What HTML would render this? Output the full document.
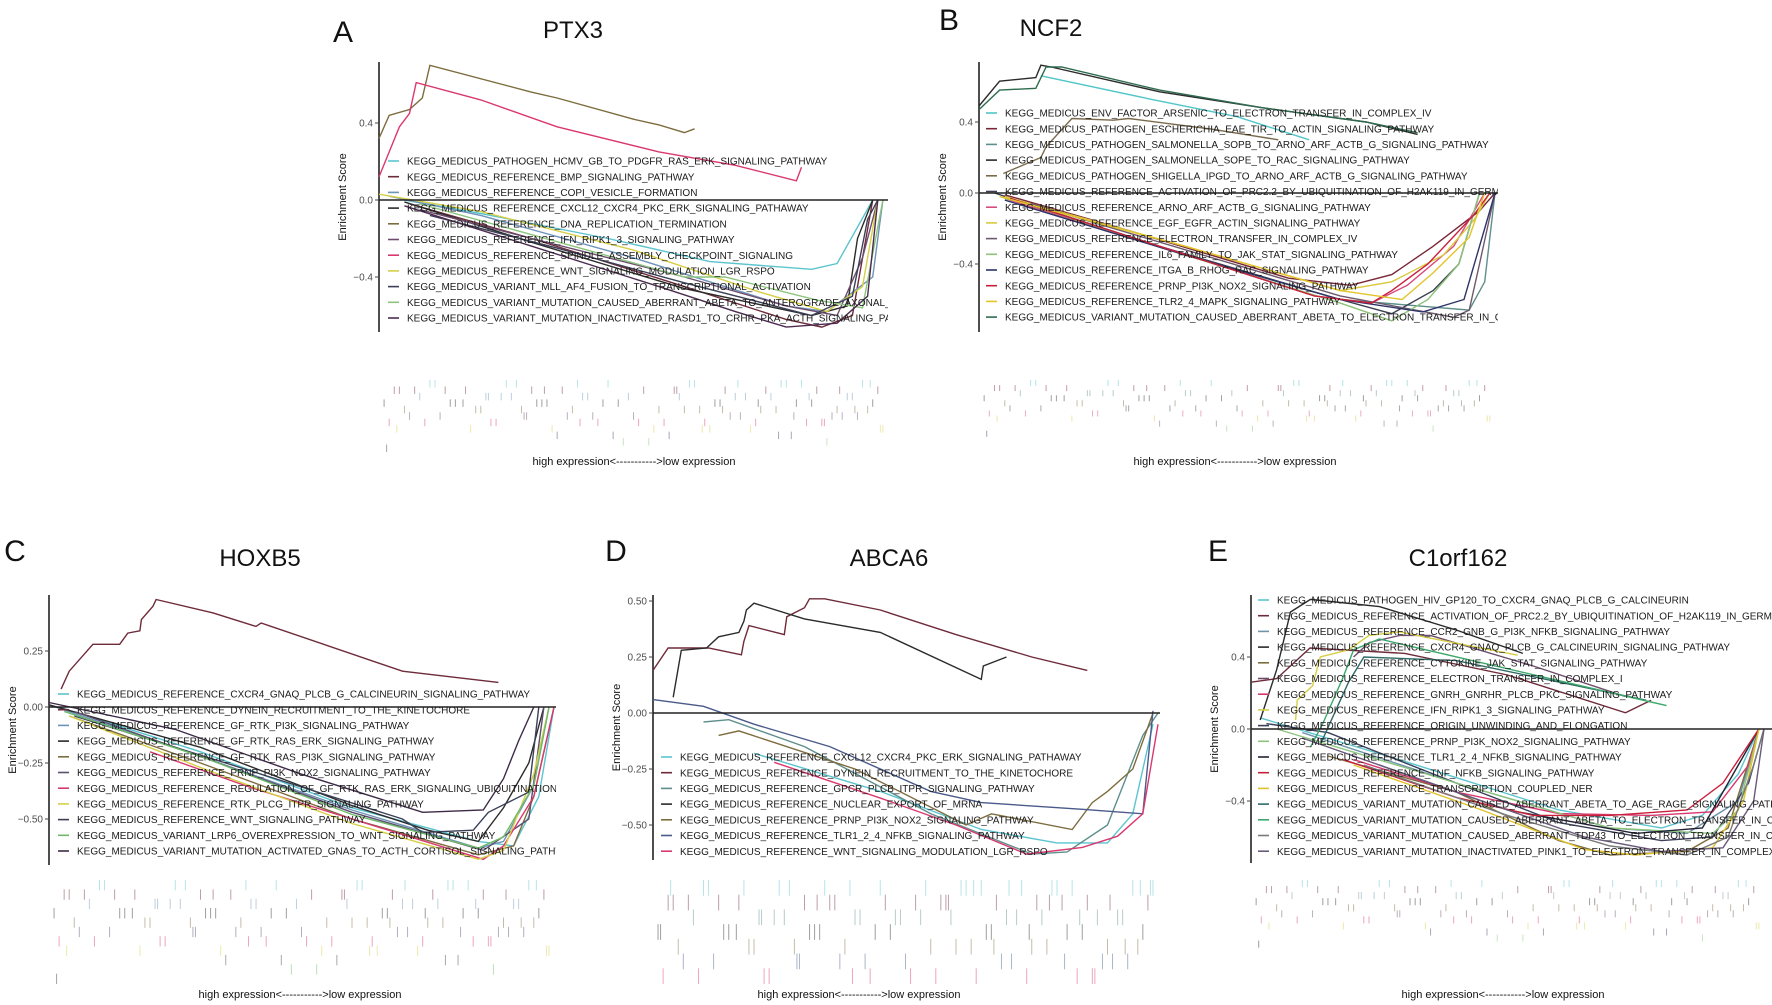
<!DOCTYPE html>
<html><head><meta charset="utf-8">
<style>
html,body{margin:0;padding:0;background:#fff;}
svg{display:block;font-family:"Liberation Sans",Arial,sans-serif;}
</style></head>
<body>
<svg id="fig" width="1772" height="1005" viewBox="0 0 1772 1005" xmlns="http://www.w3.org/2000/svg"></svg>
<script>
// ---------- Panel A : PTX3 ----------
const A_names=["KEGG_MEDICUS_PATHOGEN_HCMV_GB_TO_PDGFR_RAS_ERK_SIGNALING_PATHWAY","KEGG_MEDICUS_REFERENCE_BMP_SIGNALING_PATHWAY","KEGG_MEDICUS_REFERENCE_COPI_VESICLE_FORMATION","KEGG_MEDICUS_REFERENCE_CXCL12_CXCR4_PKC_ERK_SIGNALING_PATHAWAY","KEGG_MEDICUS_REFERENCE_DNA_REPLICATION_TERMINATION","KEGG_MEDICUS_REFERENCE_IFN_RIPK1_3_SIGNALING_PATHWAY","KEGG_MEDICUS_REFERENCE_SPINDLE_ASSEMBLY_CHECKPOINT_SIGNALING","KEGG_MEDICUS_REFERENCE_WNT_SIGNALING_MODULATION_LGR_RSPO","KEGG_MEDICUS_VARIANT_MLL_AF4_FUSION_TO_TRANSCRIPTIONAL_ACTIVATION","KEGG_MEDICUS_VARIANT_MUTATION_CAUSED_ABERRANT_ABETA_TO_ANTEROGRADE_AXONAL_TRANSPORT","KEGG_MEDICUS_VARIANT_MUTATION_INACTIVATED_RASD1_TO_CRHR_PKA_ACTH_SIGNALING_PATHWAY"];
const A_colors=["#5bc4cf","#6e2b3a","#6f93b8","#2b2b2b","#7d6c3e","#6d4d6e","#d9386f","#d6cf45","#3b4058","#8cc47e","#4b2b4f"];
const A_series=[
[[0.05,0],[0.2,-0.07],[0.45,-0.2],[0.65,-0.32],[0.85,-0.36],[0.9,-0.33],[0.97,0]],
[[0.06,-0.02],[0.3,-0.2],[0.6,-0.45],[0.8,-0.62],[0.87,-0.66],[0.93,-0.6],[0.97,0]],
[[0.02,0.02],[0.2,-0.08],[0.5,-0.3],[0.8,-0.55],[0.88,-0.58],[0.97,-0.4],[0.99,0]],
[[0.05,-0.01],[0.3,-0.22],[0.6,-0.46],[0.85,-0.6],[0.92,-0.55],[0.94,-0.2],[0.97,0]],
[[0,0.32],[0.02,0.44],[0.06,0.47],[0.085,0.53],[0.1,0.7],[0.3,0.56],[0.35,0.53],[0.5,0.42],[0.55,0.39],[0.6,0.35],[0.62,0.37]],
[[0.08,-0.05],[0.3,-0.2],[0.6,-0.4],[0.8,-0.55],[0.9,-0.6],[0.95,-0.3],[0.98,0]],
[[0,0.12],[0.02,0.25],[0.04,0.38],[0.06,0.45],[0.073,0.61],[0.2,0.52],[0.35,0.38],[0.55,0.25],[0.7,0.18],[0.82,0.1],[0.83,0.17]],
[[0,0.03],[0.2,-0.06],[0.5,-0.26],[0.75,-0.48],[0.88,-0.58],[0.95,-0.45],[0.98,0]],
[[0.1,-0.08],[0.35,-0.25],[0.6,-0.43],[0.85,-0.6],[0.93,-0.5],[0.96,-0.1],[0.98,0]],
[[0.08,-0.02],[0.3,-0.18],[0.6,-0.4],[0.68,-0.4],[0.86,-0.52],[0.95,-0.56],[0.99,0]],
[[0.05,-0.03],[0.3,-0.24],[0.55,-0.45],[0.7,-0.58],[0.8,-0.66],[0.9,-0.64],[0.96,-0.5],[0.98,0]]];
const A_ticks=[0.4,0,-0.4];
const A_tickLabels=["0.4","0.0","\u22120.4"];

// ---------- Panel B : NCF2 ----------
const B_names=["KEGG_MEDICUS_ENV_FACTOR_ARSENIC_TO_ELECTRON_TRANSFER_IN_COMPLEX_IV","KEGG_MEDICUS_PATHOGEN_ESCHERICHIA_EAE_TIR_TO_ACTIN_SIGNALING_PATHWAY","KEGG_MEDICUS_PATHOGEN_SALMONELLA_SOPB_TO_ARNO_ARF_ACTB_G_SIGNALING_PATHWAY","KEGG_MEDICUS_PATHOGEN_SALMONELLA_SOPE_TO_RAC_SIGNALING_PATHWAY","KEGG_MEDICUS_PATHOGEN_SHIGELLA_IPGD_TO_ARNO_ARF_ACTB_G_SIGNALING_PATHWAY","KEGG_MEDICUS_REFERENCE_ACTIVATION_OF_PRC2.2_BY_UBIQUITINATION_OF_H2AK119_IN_GERM","KEGG_MEDICUS_REFERENCE_ARNO_ARF_ACTB_G_SIGNALING_PATHWAY","KEGG_MEDICUS_REFERENCE_EGF_EGFR_ACTIN_SIGNALING_PATHWAY","KEGG_MEDICUS_REFERENCE_ELECTRON_TRANSFER_IN_COMPLEX_IV","KEGG_MEDICUS_REFERENCE_IL6_FAMILY_TO_JAK_STAT_SIGNALING_PATHWAY","KEGG_MEDICUS_REFERENCE_ITGA_B_RHOG_RAC_SIGNALING_PATHWAY","KEGG_MEDICUS_REFERENCE_PRNP_PI3K_NOX2_SIGNALING_PATHWAY","KEGG_MEDICUS_REFERENCE_TLR2_4_MAPK_SIGNALING_PATHWAY","KEGG_MEDICUS_VARIANT_MUTATION_CAUSED_ABERRANT_ABETA_TO_ELECTRON_TRANSFER_IN_COMPLEX"];
const B_colors=["#4fc6c8","#7a2638","#5f8f8c","#2b2b2b","#7a6a4c","#3a3f50","#d94b7c","#d9c93c","#6c5a6c","#8dc27a","#2f3468","#c8203a","#e3c42a","#2e6b4f"];
const B_series=[
[[0.12,0.66],[0.33,0.53],[0.5,0.43],[0.64,0.3]],
[[0.05,-0.01],[0.3,-0.22],[0.6,-0.48],[0.72,-0.52],[0.8,-0.46],[0.88,-0.3],[0.97,-0.1],[1,0]],
[[0.05,-0.03],[0.4,-0.35],[0.7,-0.6],[0.95,-0.66],[0.98,-0.5],[1,0]],
[[0,0.49],[0.04,0.63],[0.11,0.65],[0.12,0.72],[0.14,0.71],[0.35,0.57],[0.55,0.48],[0.75,0.4],[0.85,0.33]],
[[0.047,0.11],[0.12,0.2],[0.13,0.26],[0.18,0.42],[0.26,0.41],[0.29,0.42],[0.45,0.36],[0.58,0.3]],
[[0.03,0],[0.35,-0.3],[0.7,-0.6],[0.8,-0.68],[0.88,-0.55],[0.93,-0.4],[0.97,0]],
[[0.06,-0.04],[0.35,-0.3],[0.65,-0.58],[0.76,-0.62],[0.83,-0.52],[0.92,-0.3],[0.98,0]],
[[0.05,-0.02],[0.4,-0.3],[0.7,-0.55],[0.8,-0.5],[0.9,-0.35],[0.96,-0.15],[0.99,0]],
[[0.1,-0.06],[0.4,-0.32],[0.7,-0.58],[0.92,-0.7],[0.95,-0.66],[0.97,-0.4],[1,0]],
[[0.08,-0.05],[0.4,-0.35],[0.7,-0.62],[0.8,-0.72],[0.87,-0.6],[0.93,-0.4],[0.97,0]],
[[0.05,-0.04],[0.4,-0.35],[0.7,-0.6],[0.86,-0.67],[0.94,-0.6],[0.98,-0.2],[1,0]],
[[0.06,-0.03],[0.35,-0.3],[0.65,-0.58],[0.76,-0.62],[0.8,-0.55],[0.87,-0.4],[0.96,-0.12],[0.99,0]],
[[0.04,-0.02],[0.4,-0.3],[0.7,-0.55],[0.82,-0.6],[0.88,-0.45],[0.95,-0.25],[0.98,0]],
[[0,0.47],[0.04,0.58],[0.11,0.59],[0.13,0.71],[0.16,0.71],[0.35,0.58],[0.55,0.48],[0.75,0.4],[0.85,0.34]]];
const B_ticks=[0.4,0,-0.4];
const B_tickLabels=["0.4","0.0","\u22120.4"];

// ---------- Panel C : HOXB5 ----------
const C_names=["KEGG_MEDICUS_REFERENCE_CXCR4_GNAQ_PLCB_G_CALCINEURIN_SIGNALING_PATHWAY","KEGG_MEDICUS_REFERENCE_DYNEIN_RECRUITMENT_TO_THE_KINETOCHORE","KEGG_MEDICUS_REFERENCE_GF_RTK_PI3K_SIGNALING_PATHWAY","KEGG_MEDICUS_REFERENCE_GF_RTK_RAS_ERK_SIGNALING_PATHWAY","KEGG_MEDICUS_REFERENCE_GF_RTK_RAS_PI3K_SIGNALING_PATHWAY","KEGG_MEDICUS_REFERENCE_PRNP_PI3K_NOX2_SIGNALING_PATHWAY","KEGG_MEDICUS_REFERENCE_REGULATION_OF_GF_RTK_RAS_ERK_SIGNALING_UBIQUITINATION","KEGG_MEDICUS_REFERENCE_RTK_PLCG_ITPR_SIGNALING_PATHWAY","KEGG_MEDICUS_REFERENCE_WNT_SIGNALING_PATHWAY","KEGG_MEDICUS_VARIANT_LRP6_OVEREXPRESSION_TO_WNT_SIGNALING_PATHWAY","KEGG_MEDICUS_VARIANT_MUTATION_ACTIVATED_GNAS_TO_ACTH_CORTISOL_SIGNALING_PATHWAY"];
const C_colors=["#5bc4cf","#6e2b3a","#6f93b8","#2b2b2b","#7d6c3e","#5d4d6e","#d9386f","#d6cf45","#3b4058","#6fba6a","#3d2a48"];
const C_series=[
[[0.02,0],[0.3,-0.2],[0.6,-0.45],[0.85,-0.6],[0.92,-0.62],[0.97,-0.4],[1,0]],
[[0.024,0.08],[0.04,0.16],[0.087,0.28],[0.14,0.28],[0.156,0.33],[0.18,0.34],[0.183,0.39],[0.206,0.45],[0.212,0.48],[0.325,0.42],[0.41,0.36],[0.42,0.375],[0.44,0.36],[0.7,0.16],[0.89,0.11]],
[[0,0.01],[0.3,-0.22],[0.6,-0.46],[0.85,-0.63],[0.9,-0.6],[0.96,-0.35],[0.99,0]],
[[0,0.01],[0.3,-0.18],[0.6,-0.44],[0.75,-0.55],[0.85,-0.6],[0.9,-0.45],[0.95,-0.25],[0.98,0]],
[[0.04,-0.04],[0.3,-0.25],[0.6,-0.5],[0.85,-0.66],[0.92,-0.62],[0.96,-0.4],[1,0]],
[[0.05,-0.02],[0.3,-0.22],[0.6,-0.47],[0.86,-0.64],[0.95,-0.5],[0.98,0]],
[[0.2,-0.2],[0.4,-0.36],[0.6,-0.5],[0.86,-0.68],[0.9,-0.62],[0.96,-0.4],[1,0]],
[[0.04,-0.04],[0.3,-0.27],[0.6,-0.52],[0.85,-0.68],[0.9,-0.64],[0.96,-0.3],[0.99,0]],
[[0.05,-0.04],[0.35,-0.25],[0.7,-0.5],[0.74,-0.56],[0.84,-0.55],[0.87,-0.47],[0.95,-0.38],[0.97,0]],
[[0.03,-0.02],[0.3,-0.22],[0.6,-0.48],[0.85,-0.63],[0.9,-0.58],[0.96,-0.35],[0.99,0]],
[[0,0.02],[0.25,-0.1],[0.5,-0.3],[0.74,-0.47],[0.86,-0.46],[0.9,-0.32],[0.93,-0.15],[0.96,0]]];
const C_ticks=[0.25,0,-0.25,-0.5];
const C_tickLabels=["0.25","0.00","\u22120.25","\u22120.50"];

// ---------- Panel D : ABCA6 ----------
const D_names=["KEGG_MEDICUS_REFERENCE_CXCL12_CXCR4_PKC_ERK_SIGNALING_PATHAWAY","KEGG_MEDICUS_REFERENCE_DYNEIN_RECRUITMENT_TO_THE_KINETOCHORE","KEGG_MEDICUS_REFERENCE_GPCR_PLCB_ITPR_SIGNALING_PATHWAY","KEGG_MEDICUS_REFERENCE_NUCLEAR_EXPORT_OF_MRNA","KEGG_MEDICUS_REFERENCE_PRNP_PI3K_NOX2_SIGNALING_PATHWAY","KEGG_MEDICUS_REFERENCE_TLR1_2_4_NFKB_SIGNALING_PATHWAY","KEGG_MEDICUS_REFERENCE_WNT_SIGNALING_MODULATION_LGR_RSPO"];
const D_colors=["#5bc4cf","#6e2b3a","#5f8f8c","#2b2b2b","#7d6c3e","#4a5a8a","#d9386f"];
const D_series=[
[[0.2,-0.18],[0.45,-0.35],[0.65,-0.52],[0.8,-0.58],[0.9,-0.58],[0.95,-0.45],[0.99,-0.05]],
[[0,0.19],[0.03,0.29],[0.11,0.29],[0.175,0.26],[0.18,0.32],[0.19,0.39],[0.26,0.35],[0.265,0.43],[0.3,0.47],[0.31,0.51],[0.34,0.51],[0.45,0.46],[0.6,0.35],[0.75,0.25],[0.75,0.25],[0.86,0.19]],
[[0.1,-0.04],[0.15,-0.03],[0.3,-0.15],[0.55,-0.45],[0.75,-0.63],[0.82,-0.62],[0.9,-0.5],[0.97,-0.1],[1,0]],
[[0.04,0.07],[0.056,0.28],[0.106,0.29],[0.13,0.34],[0.17,0.36],[0.18,0.41],[0.185,0.46],[0.2,0.49],[0.3,0.42],[0.45,0.36],[0.65,0.15],[0.654,0.21],[0.7,0.25]],
[[0.13,-0.1],[0.17,-0.08],[0.4,-0.25],[0.62,-0.5],[0.67,-0.45],[0.83,-0.52],[0.87,-0.4],[0.9,-0.35],[0.95,-0.25],[0.99,0]],
[[0,0.06],[0.1,0.03],[0.2,-0.05],[0.35,-0.15],[0.55,-0.35],[0.65,-0.4],[0.85,-0.43],[0.97,-0.45],[0.99,0.01]],
[[0.24,-0.22],[0.45,-0.38],[0.6,-0.5],[0.74,-0.63],[0.85,-0.6],[0.92,-0.55],[0.97,-0.45],[1,-0.05]]];
const D_ticks=[0.5,0.25,0,-0.25,-0.5];
const D_tickLabels=["0.50","0.25","0.00","\u22120.25","\u22120.50"];

// ---------- Panel E : C1orf162 ----------
const E_names=["KEGG_MEDICUS_PATHOGEN_HIV_GP120_TO_CXCR4_GNAQ_PLCB_G_CALCINEURIN","KEGG_MEDICUS_REFERENCE_ACTIVATION_OF_PRC2.2_BY_UBIQUITINATION_OF_H2AK119_IN_GERM","KEGG_MEDICUS_REFERENCE_CCR2_GNB_G_PI3K_NFKB_SIGNALING_PATHWAY","KEGG_MEDICUS_REFERENCE_CXCR4_GNAQ_PLCB_G_CALCINEURIN_SIGNALING_PATHWAY","KEGG_MEDICUS_REFERENCE_CYTOKINE_JAK_STAT_SIGNALING_PATHWAY","KEGG_MEDICUS_REFERENCE_ELECTRON_TRANSFER_IN_COMPLEX_I","KEGG_MEDICUS_REFERENCE_GNRH_GNRHR_PLCB_PKC_SIGNALING_PATHWAY","KEGG_MEDICUS_REFERENCE_IFN_RIPK1_3_SIGNALING_PATHWAY","KEGG_MEDICUS_REFERENCE_ORIGIN_UNWINDING_AND_ELONGATION","KEGG_MEDICUS_REFERENCE_PRNP_PI3K_NOX2_SIGNALING_PATHWAY","KEGG_MEDICUS_REFERENCE_TLR1_2_4_NFKB_SIGNALING_PATHWAY","KEGG_MEDICUS_REFERENCE_TNF_NFKB_SIGNALING_PATHWAY","KEGG_MEDICUS_REFERENCE_TRANSCRIPTION_COUPLED_NER","KEGG_MEDICUS_VARIANT_MUTATION_CAUSED_ABERRANT_ABETA_TO_AGE_RAGE_SIGNALING_PATHWAY","KEGG_MEDICUS_VARIANT_MUTATION_CAUSED_ABERRANT_ABETA_TO_ELECTRON_TRANSFER_IN_COMPLEX","KEGG_MEDICUS_VARIANT_MUTATION_CAUSED_ABERRANT_TDP43_TO_ELECTRON_TRANSFER_IN_COMPLEX","KEGG_MEDICUS_VARIANT_MUTATION_INACTIVATED_PINK1_TO_ELECTRON_TRANSFER_IN_COMPLEX_I"];
const E_colors=["#5bc4cf","#6e2b3a","#6f93a8","#2b2b2b","#7d6c3e","#6d4d6e","#d9386f","#d6cf45","#3b4058","#8cc47e","#222233","#c8203a","#e0c32a","#2f6b66","#3aa86a","#7a7a7a","#6a5a7a"];
const E_series=[
[[0.02,0.06],[0.3,-0.18],[0.6,-0.45],[0.8,-0.55],[0.88,-0.48],[0.95,-0.25],[0.99,0]],
[[0,0.26],[0.05,0.28],[0.115,0.45],[0.3,0.42],[0.5,0.3],[0.73,0.09],[0.78,0.16]],
[[0.1,-0.02],[0.4,-0.3],[0.7,-0.55],[0.85,-0.58],[0.95,-0.4],[0.99,0]],
[[0.018,0.05],[0.05,0.33],[0.077,0.65],[0.116,0.72],[0.25,0.68],[0.4,0.55],[0.53,0.42]],
[[0.15,-0.15],[0.4,-0.35],[0.6,-0.62],[0.7,-0.7],[0.85,-0.68],[0.93,-0.55],[0.99,0]],
[[0.2,0.4],[0.23,0.48],[0.29,0.52],[0.35,0.52],[0.55,0.35],[0.73,0.18]],
[[0.2,-0.17],[0.4,-0.35],[0.6,-0.47],[0.78,-0.48],[0.9,-0.46],[0.97,-0.2],[0.99,0]],
[[0.087,0.05],[0.09,0.16],[0.12,0.24],[0.135,0.4],[0.19,0.44],[0.23,0.52],[0.29,0.54],[0.34,0.51],[0.52,0.41]],
[[0.03,0.03],[0.15,-0.02],[0.4,-0.3],[0.6,-0.52],[0.8,-0.62],[0.9,-0.6],[0.97,-0.3],[1,0]],
[[0.05,0],[0.4,-0.3],[0.7,-0.55],[0.9,-0.58],[0.95,-0.45],[0.99,0]],
[[0.25,-0.2],[0.5,-0.45],[0.75,-0.58],[0.88,-0.55],[0.93,-0.3],[0.97,-0.1],[0.99,0]],
[[0.18,-0.17],[0.4,-0.38],[0.55,-0.48],[0.7,-0.48],[0.85,-0.45],[0.92,-0.3],[0.99,0]],
[[0.2,-0.2],[0.45,-0.45],[0.65,-0.67],[0.75,-0.7],[0.9,-0.66],[0.96,-0.4],[0.99,0]],
[[0.136,-0.08],[0.19,0.26],[0.22,0.4],[0.4,0.38],[0.77,0.16]],
[[0.116,-0.1],[0.14,0.03],[0.18,0.29],[0.2,0.44],[0.25,0.5],[0.81,0.13]],
[[0.22,-0.2],[0.5,-0.48],[0.7,-0.65],[0.85,-0.7],[0.93,-0.6],[0.98,-0.2],[1,0]],
[[0.1,-0.05],[0.4,-0.35],[0.65,-0.6],[0.8,-0.68],[0.92,-0.66],[0.98,-0.4],[1,0]]];
const E_ticks=[0.4,0,-0.4];
const E_tickLabels=["0.4","0.0","\u22120.4"];

// gene-set hit positions (rank fraction) and the rug row each hit sits in
const rugHits=[0.01,0.03,0.05,0.08,0.1,0.12,0.15,0.17,0.19,0.22,0.24,0.27,0.29,0.31,0.34,0.36,0.38,0.41,0.43,0.45,0.47,0.5,0.52,0.55,0.57,0.59,0.61,0.64,0.66,0.68,0.71,0.73,0.75,0.77,0.8,0.82,0.84,0.86,0.88,0.9,0.92,0.94,0.95,0.97,0.98,0.99,0.02,0.26,0.46,0.63,0.79,0.91,0.07,0.33,0.54,0.7,0.87,0.96,
0.04,0.06,0.11,0.14,0.18,0.21,0.23,0.28,0.3,0.35,0.39,0.42,0.44,0.49,0.51,0.53,0.58,0.6,0.62,0.65,0.67,0.69,0.72,0.74,0.76,0.78,0.81,0.83,0.85,0.89,0.93,0.985,0.015,0.09,0.13,0.2,0.25,0.32,0.37,0.4,0.48,0.56,0.585,0.635,0.675,0.705,0.745,0.785,0.815,0.845,0.875,0.905,0.935,0.965,0.035,0.165,0.215,0.285,0.325,0.395,0.445,0.515];
const rugRows=[3,1,4,2,0,5,3,1,4,6,2,0,5,3,7,1,4,2,6,0,3,5,1,4,8,2,0,6,3,1,5,7,4,2,0,3,6,1,9,4,2,5,0,3,1,7,
6,2,8,4,0,5,1,3,7,2,6,4,
1,5,0,3,7,2,6,4,1,8,0,5,3,2,6,9,1,4,0,7,3,5,2,6,1,4,8,0,3,5,2,7,10,6,1,4,0,3,5,2,9,6,1,7,4,0,3,8,5,2,6,1,4,0,7,3,2,5,1,6];

const NS="http://www.w3.org/2000/svg";
const svg=document.getElementById('fig');
function mk(tag,attrs,parent){const e=document.createElementNS(NS,tag);for(const k in attrs)e.setAttribute(k,attrs[k]);(parent||svg).appendChild(e);return e;}

const panels=[
{id:"a",letter:"A",title:"PTX3",names:A_names,colors:A_colors,series:A_series,ticks:A_ticks,tl:A_tickLabels,
 x0:379,x1:888,zeroY:200,ppu:192.5,top:62,bottom:332,lx:407,ly:161,zr:888,rugTop:379,rugBot:450,bx:634,by:465,tx:573,ty:38,Lx:343,Ly:42},
{id:"b",letter:"B",title:"NCF2",names:B_names,colors:B_colors,series:B_series,ticks:B_ticks,tl:B_tickLabels,
 x0:979,x1:1495,zeroY:193,ppu:177.5,top:62,bottom:332,lx:1005,ly:113,zr:1498,rugTop:379,rugBot:450,bx:1235,by:465,tx:1051,ty:36,Lx:949,Ly:30},
{id:"c",letter:"C",title:"HOXB5",names:C_names,colors:C_colors,series:C_series,ticks:C_ticks,tl:C_tickLabels,
 x0:49,x1:554,zeroY:707,ppu:224,top:595,bottom:865,lx:77,ly:694,zr:556,rugTop:879,rugBot:982,bx:300,by:998,tx:260,ty:566,Lx:15,Ly:561},
{id:"d",letter:"D",title:"ABCA6",names:D_names,colors:D_colors,series:D_series,ticks:D_ticks,tl:D_tickLabels,
 x0:653,x1:1158,zeroY:713,ppu:224,top:595,bottom:860,lx:680,ly:757,zr:1160,rugTop:879,rugBot:982,bx:859,by:998,tx:889,ty:566,Lx:616,Ly:561},
{id:"e",letter:"E",title:"C1orf162",names:E_names,colors:E_colors,series:E_series,ticks:E_ticks,tl:E_tickLabels,
 x0:1251,x1:1764,zeroY:729,ppu:180,top:595,bottom:863,lx:1277,ly:600,zr:1772,rugTop:879,rugBot:982,bx:1503,by:998,tx:1458,ty:566,Lx:1218,Ly:561}];

const defs=mk('defs',{});
panels.forEach(p=>{
  const X=v=>p.x0+v*(p.x1-p.x0);
  const Y=v=>p.zeroY-v*p.ppu;
  const g=mk('g',{});
  
  
  const cp=mk('clipPath',{id:'clip-'+p.id},defs);
  mk('rect',{x:p.x0-60,y:p.top-20,width:p.zr-p.x0+60,height:p.bottom-p.top+40},cp);

  const L=mk('text',{x:p.Lx,y:p.Ly,'font-size':30,'text-anchor':'middle',fill:'#111'},g);L.textContent=p.letter;
  
  
  const T=mk('text',{x:p.tx,y:p.ty,'font-size':24,'text-anchor':'middle',fill:'#111'},g);T.textContent=p.title;
  
  

  const ax=mk('line',{x1:p.x0,y1:p.top,x2:p.x0,y2:p.bottom,stroke:'#222','stroke-width':1.6},g);
  
  
  p.ticks.forEach((t,i)=>{
    const tk=mk('line',{x1:p.x0-4,y1:Y(t),x2:p.x0,y2:Y(t),stroke:'#444','stroke-width':1},g);
    
    
    const tt=mk('text',{x:p.x0-6,y:Y(t)+3.5,'font-size':10,'text-anchor':'end',fill:'#4d4d4d'},g);tt.textContent=p.tl[i];
    
    
  });
  const yt=mk('text',{x:0,y:0,'font-size':11,'text-anchor':'middle',fill:'#111',transform:`translate(${p.x0-33},${(p.top+p.bottom)/2}) rotate(-90)`},g);
  yt.textContent='Enrichment Score';
  
  

  const cg=mk('g',{'clip-path':`url(#clip-${p.id})`},g);
  p.series.forEach((s,i)=>{
    const d=s.map((pt,j)=>(j?'L':'M')+X(pt[0]).toFixed(1)+' '+Y(pt[1]).toFixed(1)).join(' ');
    const path=mk('path',{d:d,fill:'none',stroke:p.colors[i],'stroke-width':1.4},cg);
    
    
  });
  const z=mk('line',{x1:p.x0,y1:p.zeroY,x2:p.zr,y2:p.zeroY,stroke:'#222','stroke-width':1.6},g);
  
  

  const lg=mk('g',{'clip-path':`url(#clip-${p.id})`},g);
  
  
  p.names.forEach((n,i)=>{
    const yy=p.ly+i*15.7;
    const sw=mk('line',{x1:p.lx-19,y1:yy,x2:p.lx-8,y2:yy,stroke:p.colors[i],'stroke-width':1.6},lg);
    
    
    const tx=mk('text',{x:p.lx,y:yy+3.6,'font-size':10,fill:'#1a1a1a'},lg);tx.textContent=n;
    
    
  });

  const rg=mk('g',{},g);
  
  
  const n=p.series.length, rh=(p.rugBot-p.rugTop)/n;
  rugHits.forEach((h,k)=>{
    const r=rugRows[k]%n;
    const tk=mk('line',{x1:X(h),x2:X(h),y1:p.rugTop+r*rh+1,y2:p.rugTop+(r+1)*rh+2,stroke:p.colors[r],'stroke-width':1,opacity:0.45},rg);
    
    
  });
  const bl=mk('text',{x:p.bx,y:p.by,'font-size':11,'text-anchor':'middle',fill:'#111'},g);
  bl.textContent='high expression<----------->low expression';
  
  
});
</script>
</body></html>
